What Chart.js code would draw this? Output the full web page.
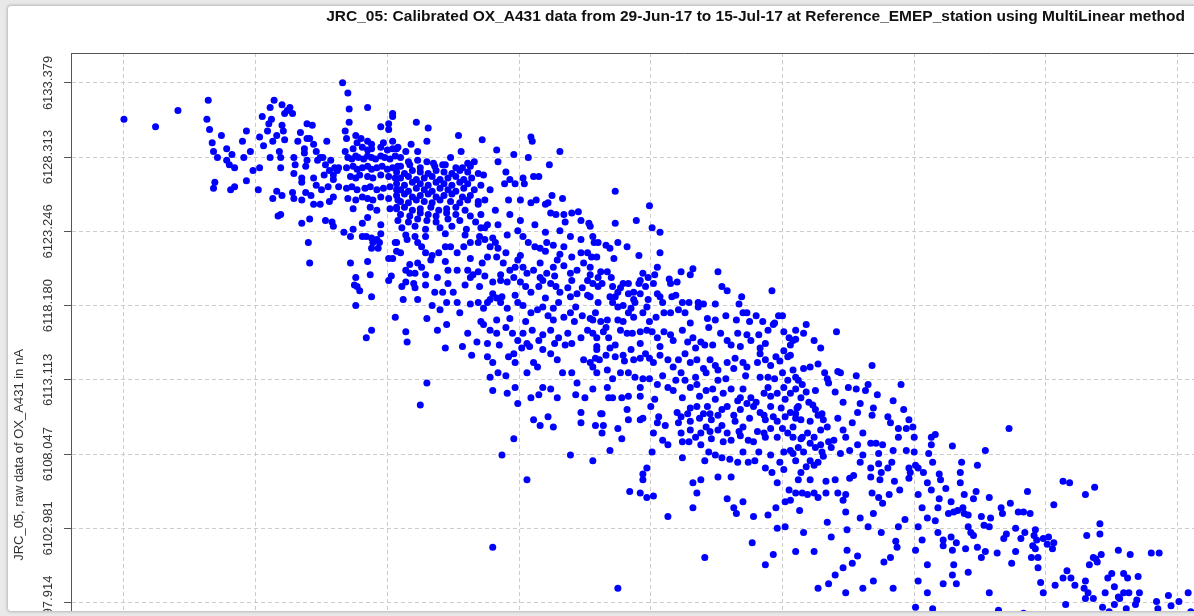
<!DOCTYPE html>
<html>
<head>
<meta charset="utf-8">
<script src="https://cdn.jsdelivr.net/npm/chart.js@4/dist/chart.umd.min.js"></script>
<style>
  html, body { margin: 0; padding: 0; width: 1194px; height: 616px; overflow: hidden; background: #e9e9e9; }
  #panel { position: absolute; left: 8px; top: 6px; width: 1300px; height: 605px; overflow: hidden;
           background: #fff; border-radius: 3px; box-shadow: 0 0 3px 1px rgba(0,0,0,0.22); }
  #chart { position: absolute; left: 0; top: 0; }
</style>
</head>
<body>
<div id="panel"><canvas id="chart" width="1300" height="860"></canvas></div>
<script>
// Chart texts
const title = 'JRC_05: Calibrated OX_A431 data from 29-Jun-17 to 15-Jul-17 at Reference_EMEP_station using MultiLinear method';
const yTitle = 'JRC_05, raw data of OX_A431 in nA';

// y tick labels (nA) and x grid positions (x axis is unlabelled in the source, grid units)
const yTicks = [6133.379, 6128.313, 6123.246, 6118.180, 6113.113, 6108.047, 6102.981, 6097.914];
const xGrid = [0, 1, 2, 3, 4, 5, 6, 7, 8];

// visible window of the axes
const xMin = -0.402, xMax = 8.914;
const yMin = 6080.561, yMax = 6135.426;

// scatter points [x, raw nA]
const points = [
  // far left / upper left shoulder
  [0.00,6130.9],[0.24,6130.4],[0.41,6131.5],[0.64,6132.2],[0.63,6130.9],[0.65,6130.2],[0.67,6129.3],[0.68,6128.7],
  [0.71,6128.3],[0.69,6126.6],[0.68,6126.2],[0.74,6129.8],[0.78,6128.9],[0.78,6128.1],[0.82,6128.5],[0.80,6127.8],
  [0.84,6127.6],[0.84,6126.3],[0.81,6126.1],[0.93,6126.7],[0.91,6128.3],[0.90,6129.4],[0.93,6130.1],[0.96,6128.7],
  [0.98,6127.4],[1.03,6127.6],[1.02,6126.1],[1.03,6129.7],[1.05,6131.1],[1.06,6129.1],[1.09,6130.1],[1.11,6128.3],
  [1.11,6131.7],[1.14,6132.2],[1.10,6130.6],[1.12,6130.9],[1.13,6129.4],[1.16,6129.8],[1.18,6128.7],[1.19,6128.3],
  [1.19,6127.6],[1.20,6131.9],[1.20,6130.5],[1.21,6130.1],[1.22,6129.5],[1.22,6131.3],[1.26,6131.7],[1.28,6131.3],
  [1.29,6128.3],[1.30,6127.8],[1.29,6127.2],[1.32,6129.4],[1.34,6130.0],[1.13,6125.5],[1.20,6125.7],[1.16,6126.0],
  [1.28,6125.9],[1.29,6125.5],[1.17,6124.3],[1.19,6124.4],[1.24,6131.5],
  // second column
  [1.35,6125.4],[1.35,6123.8],[1.41,6124.1],[1.40,6122.5],[1.41,6121.1],[1.38,6125.9],[1.39,6130.6],[1.43,6130.5],
  [1.39,6129.6],[1.41,6129.6],[1.44,6129.2],[1.37,6128.9],[1.37,6128.6],[1.39,6128.1],[1.38,6127.7],[1.35,6126.9],
  [1.35,6126.6],[1.44,6126.9],[1.46,6126.4],[1.42,6125.7],[1.44,6125.1],[1.49,6125.1],[1.46,6128.7],[1.49,6128.3],
  [1.47,6128.1],[1.54,6129.4],[1.50,6126.1],[1.55,6126.3],[1.56,6125.3],[1.59,6125.6],[1.53,6124.0],[1.58,6123.9],
  [1.59,6123.6],[1.57,6128.1],[1.53,6127.8],[1.59,6127.1],[1.62,6127.4],[1.63,6127.6],[1.63,6126.3],[1.51,6128.3],
  [1.56,6127.4],[1.52,6127.1],[1.60,6127.6],[1.59,6126.8],
  [1.66,6133.4],[1.70,6132.7],[1.71,6131.6],[1.71,6130.7],[1.68,6130.1],[1.69,6129.6],[1.68,6128.7],[1.85,6131.7],
  [1.76,6129.8],[1.80,6129.6],
  [1.67,6123.2],[1.72,6122.9],[1.74,6123.4],[1.72,6121.1],[1.76,6120.1],[1.75,6119.6],[1.77,6119.5],[1.79,6119.2],
  [1.76,6118.2],[1.81,6123.8],[1.85,6124.2],[1.81,6122.9],[1.84,6122.9],[1.88,6122.8],[1.89,6122.5],[1.92,6122.7],
  [1.88,6122.1],[1.93,6122.1],[1.85,6121.2],[1.87,6120.3],[1.88,6118.8],[1.84,6116.0],[1.88,6116.5],[1.95,6123.1],
  [1.95,6123.7],[1.94,6122.5],[2.01,6121.4],[2.03,6120.2],[2.01,6119.9],[2.06,6117.4],[2.07,6121.9],[2.07,6122.5],
  [1.95,6130.4],[2.04,6131.3],[2.04,6131.1],[2.01,6130.6],[2.01,6130.2],
  // dense cluster around x 1.7 - 2.1
  [1.77,6129.3],[1.85,6129.4],[1.88,6129.2],[1.97,6129.3],[2.04,6129.4],
  [1.74,6128.9],[1.81,6129.0],[1.85,6128.8],[1.88,6128.9],[1.95,6129.0],[2.00,6128.8],[2.04,6128.9],[2.08,6129.0],
  [1.70,6128.3],[1.73,6128.2],[1.76,6128.4],[1.78,6128.3],[1.82,6128.2],[1.85,6128.4],[1.88,6128.3],[1.91,6128.2],
  [1.95,6128.4],[1.98,6128.3],[2.02,6128.2],[2.06,6128.4],
  [1.69,6127.6],[1.74,6127.7],[1.77,6127.5],[1.81,6127.6],[1.85,6127.7],[1.88,6127.5],[1.92,6127.6],[1.96,6127.7],
  [2.00,6127.5],[2.04,6127.6],[2.08,6127.7],
  [1.72,6127.0],[1.76,6126.9],[1.79,6127.1],[1.85,6127.0],[1.89,6126.9],[1.95,6127.1],[2.01,6127.0],[2.06,6126.9],
  [1.69,6126.2],[1.73,6126.3],[1.77,6126.1],[1.83,6126.2],[1.87,6126.3],[1.92,6126.1],[1.97,6126.2],[2.02,6126.3],
  [2.07,6126.1],
  [1.70,6125.5],[1.76,6125.4],[1.81,6125.6],[1.85,6125.5],[1.89,6125.4],[1.95,6125.6],[2.01,6125.5],[2.08,6125.4],
  [1.74,6124.8],[1.87,6124.9],[1.92,6124.7],[2.02,6124.8],[2.07,6124.9],
  // x 2.1 - 3.3, upper edge
  [2.22,6130.7],[2.31,6130.3],[2.54,6129.8],[2.72,6129.5],[2.83,6128.8],[2.96,6128.5],[3.09,6129.7],[3.10,6129.4],
  [3.31,6128.7],[3.23,6127.8],[3.07,6128.3],[2.30,6129.4],[2.18,6129.2],[2.14,6128.7],[2.07,6128.9],[2.56,6128.7],
  [2.23,6128.7],[2.10,6128.3],[2.16,6128.0],[2.23,6128.1],[2.30,6128.0],[2.35,6127.9],[2.48,6128.3],[2.42,6127.8],
  [2.57,6127.6],[2.61,6127.9],[2.66,6128.0],
  // core blob
  [2.10,6127.7],[2.17,6127.8],[2.25,6127.6],[2.36,6127.7],[2.44,6127.8],[2.52,6127.6],[2.63,6127.7],
  [2.07,6127.3],[2.13,6127.2],[2.19,6127.4],[2.25,6127.3],[2.31,6127.2],[2.37,6127.4],[2.43,6127.3],[2.49,6127.2],
  [2.55,6127.4],[2.61,6127.3],[2.69,6127.2],
  [2.10,6126.9],[2.16,6127.0],[2.22,6126.8],[2.28,6126.9],[2.34,6127.0],[2.40,6126.8],[2.46,6126.9],[2.52,6127.0],
  [2.58,6126.8],[2.64,6126.9],
  [2.07,6126.5],[2.13,6126.4],[2.19,6126.6],[2.25,6126.5],[2.31,6126.4],[2.37,6126.6],[2.43,6126.5],[2.49,6126.4],
  [2.55,6126.6],[2.61,6126.5],[2.71,6126.4],
  [2.10,6126.1],[2.16,6126.0],[2.22,6126.2],[2.28,6126.1],[2.34,6126.0],[2.40,6126.2],[2.46,6126.1],[2.52,6126.0],
  [2.58,6126.2],[2.66,6126.1],
  [2.07,6125.7],[2.13,6125.8],[2.19,6125.6],[2.25,6125.7],[2.31,6125.8],[2.37,6125.6],[2.43,6125.7],[2.49,6125.8],
  [2.57,6125.6],[2.63,6125.7],
  [2.10,6125.3],[2.16,6125.2],[2.22,6125.4],[2.28,6125.3],[2.34,6125.2],[2.40,6125.4],[2.48,6125.3],[2.55,6125.2],
  [2.61,6125.4],[2.69,6125.3],
  [2.07,6124.8],[2.13,6124.9],[2.19,6124.7],[2.25,6124.8],[2.33,6124.9],[2.39,6124.7],[2.45,6124.8],[2.52,6124.9],
  [2.59,6124.7],
  [2.10,6124.4],[2.17,6124.3],[2.25,6124.5],[2.31,6124.4],[2.37,6124.3],[2.45,6124.5],[2.52,6124.4],[2.63,6124.3],
  [2.08,6124.0],[2.16,6123.9],[2.23,6124.1],[2.30,6124.0],[2.37,6123.9],[2.46,6124.1],[2.55,6124.0],[2.67,6123.9],
  [2.11,6123.5],[2.21,6123.6],[2.29,6123.4],[2.40,6123.5],[2.49,6123.6],[2.60,6123.4],[2.71,6123.5],
  // below the core
  [2.06,6122.5],[2.10,6121.8],[2.04,6121.4],[2.15,6122.7],[2.21,6122.9],[2.23,6122.5],[2.26,6122.2],[2.29,6121.8],
  [2.34,6121.6],[2.39,6121.8],[2.44,6122.2],[2.48,6122.2],[2.53,6121.8],[2.58,6122.2],[2.63,6122.5],[2.69,6122.5],
  [2.74,6122.7],[2.78,6122.2],[2.82,6122.5],[2.84,6122.1],[2.17,6121.0],[2.23,6121.1],[2.26,6120.8],[2.14,6120.6],
  [2.17,6120.4],[2.21,6120.4],[2.29,6120.3],[2.38,6120.1],[2.46,6120.6],[2.53,6120.6],[2.61,6120.6],[2.65,6120.3],
  [2.11,6119.5],[2.14,6119.8],[2.20,6119.7],[2.21,6119.4],[2.36,6119.1],[2.42,6119.1],[2.50,6119.1],[2.59,6119.6],
  [2.63,6120.1],[2.69,6120.5],[2.72,6121.1],[2.76,6121.5],[2.12,6118.6],[2.23,6118.6],[2.34,6118.2],[2.40,6117.9],
  [2.45,6118.4],[2.53,6118.4],[2.55,6117.7],[2.63,6118.3],[2.69,6118.4],[2.73,6118.0],[2.76,6118.4],[2.80,6119.0],
  [2.78,6118.6],[2.83,6118.7],[2.14,6116.4],[2.15,6115.7],[2.30,6117.3],[2.38,6116.5],[2.44,6115.3],[2.45,6116.9],
  [2.57,6115.4],[2.61,6116.3],[2.64,6114.8],[2.68,6115.7],[2.73,6116.9],[2.76,6115.6],[2.30,6112.9],[2.25,6111.4],
  [2.14,6123.0],[2.29,6122.9],[2.44,6123.1],[2.59,6123.0],[2.70,6122.9],[2.33,6121.3],[2.44,6121.2],[2.63,6121.4],
  [2.29,6119.6],[2.46,6119.7],[2.70,6119.5],
  // x 2.7 - 3.6
  [2.84,6128.0],[2.90,6127.3],[2.93,6126.8],[2.97,6126.5],[3.03,6126.9],[3.11,6127.0],[3.15,6127.0],[2.92,6125.4],
  [3.01,6125.4],[3.09,6125.2],[3.13,6125.4],[3.20,6125.1],[3.22,6125.2],[3.25,6125.7],[3.33,6125.5],
  [2.89,6126.5],[3.04,6126.5],[2.78,6126.1],[2.74,6125.4],[2.82,6124.7],[2.71,6124.4],[2.76,6123.7],[2.93,6124.4],
  [3.01,6124.0],[3.12,6123.7],[3.20,6123.2],[3.31,6123.3],[3.39,6122.9],[3.47,6122.7],[2.80,6122.8],[2.73,6127.1],
  [2.69,6125.1],[2.74,6123.5],
  [2.84,6123.7],[2.91,6123.0],[2.99,6123.3],[3.03,6122.9],[3.07,6122.5],[3.12,6122.2],[3.16,6122.1],[3.21,6122.5],
  [3.26,6122.3],[3.34,6122.2],[3.40,6121.5],[3.47,6121.8],[3.28,6124.4],[3.24,6124.5],[3.34,6124.4],[3.35,6123.9],
  [3.40,6124.5],[3.45,6124.6],[3.47,6124.0],[3.53,6123.8],[3.54,6123.6],[3.56,6122.9],[3.60,6122.5],
  [2.90,6121.8],[3.01,6121.6],[3.20,6121.9],[3.31,6121.7],[3.52,6121.8],
  [2.83,6121.5],[2.88,6121.1],[2.93,6120.6],[2.97,6120.8],[2.99,6121.3],[3.03,6120.8],[3.06,6120.4],[3.11,6120.6],
  [3.16,6121.1],[3.21,6120.4],[3.26,6120.8],[3.29,6121.3],[3.34,6120.9],[3.39,6120.4],[3.44,6120.6],[3.49,6121.1],
  [3.54,6120.8],[3.59,6121.5],
  [2.74,6120.2],[2.86,6120.3],[3.16,6120.1],[3.27,6120.2],[3.54,6120.3],
  [2.80,6119.8],[2.86,6119.9],[2.91,6119.8],[2.96,6120.1],[3.01,6119.8],[3.05,6119.5],[3.09,6119.1],[3.15,6119.5],
  [3.18,6119.9],[3.24,6119.7],[3.28,6119.5],[3.31,6119.1],[3.37,6119.4],[3.40,6119.9],[3.44,6119.0],[3.48,6119.4],
  [3.52,6119.9],[3.56,6119.7],[3.60,6119.5],
  [2.87,6118.8],[2.97,6118.9],[3.20,6118.7],[3.39,6118.8],[3.52,6118.9],
  [2.86,6118.4],[2.91,6118.0],[2.99,6118.4],[3.03,6118.2],[3.09,6117.7],[3.14,6117.9],[3.18,6118.1],[3.22,6117.5],
  [3.26,6118.0],[3.30,6118.4],[3.34,6117.4],[3.39,6117.7],[3.43,6118.1],[3.48,6117.5],[3.54,6117.3],[3.58,6117.7],
  [3.60,6118.4],
  [2.83,6117.2],[2.93,6117.3],[3.05,6117.1],[3.26,6117.2],[3.42,6117.1],
  [2.71,6117.1],[2.78,6116.5],[2.83,6116.3],[2.90,6116.7],[2.95,6116.3],[2.99,6115.8],[3.03,6116.3],[3.10,6116.5],
  [3.15,6115.8],[3.18,6116.2],[3.24,6116.5],[3.30,6116.0],[3.37,6116.3],[3.40,6115.6],[3.47,6116.0],[3.52,6116.5],
  [3.56,6116.3],
  [2.85,6115.5],[3.08,6115.4],[3.27,6115.6],[3.35,6115.5],[3.59,6115.4],
  [2.76,6114.7],[2.80,6114.3],[2.84,6113.6],[2.90,6113.4],[2.92,6114.7],[2.96,6114.9],[2.97,6114.3],[3.02,6115.3],
  [3.06,6115.6],[3.11,6114.3],[3.14,6114.0],[3.18,6115.2],[3.24,6114.9],[3.29,6114.5],[3.33,6113.6],[3.40,6113.6],
  [3.44,6112.9],[3.49,6114.5],[3.54,6114.3],[3.58,6114.6],
  [2.78,6113.3],[2.80,6112.4],[2.91,6112.2],[2.97,6112.6],[2.99,6111.5],[3.06,6113.6],[3.09,6111.9],[3.15,6112.1],
  [3.18,6112.6],[3.24,6112.5],[3.29,6111.9],[3.43,6112.1],[3.47,6110.9],[3.50,6111.9],[3.56,6112.5],
  [3.11,6110.4],[3.16,6110.0],[3.22,6110.6],[3.26,6109.9],[3.47,6110.2],[3.58,6110.0],[3.62,6110.8],
  [2.96,6109.1],[2.87,6108.0],[3.06,6106.3],[3.39,6108.0],[3.56,6107.6],[2.80,6101.7],[3.75,6098.9],
  // x 3.5 - 5.1
  [3.73,6126.0],[3.99,6125.0],[4.01,6123.5],[4.07,6123.2],[3.73,6123.8],[3.89,6124.0],[3.57,6122.5],[3.66,6122.3],
  [3.69,6122.1],[3.75,6122.5],[3.82,6122.2],[3.91,6121.6],[4.07,6121.8],[3.72,6121.4],[4.05,6120.8],[4.03,6120.3],
  [4.23,6120.5],[4.32,6120.7],[4.30,6120.3],[4.14,6120.0],[4.15,6119.7],[4.20,6119.8],[4.51,6120.5],[4.54,6119.5],
  [4.58,6119.2],[4.69,6118.8],[4.67,6118.3],[4.92,6119.2],
  [3.60,6120.1],[3.63,6119.7],[3.70,6120.1],[3.71,6119.5],[3.69,6118.8],[3.83,6119.7],[3.91,6119.7],[3.92,6119.0],
  [3.94,6120.4],[4.05,6119.0],[4.07,6118.8],[4.09,6118.4],[4.19,6118.9],[4.24,6118.4],[4.29,6118.4],[4.36,6118.4],
  [4.40,6118.3],[4.49,6118.3],[3.54,6118.8],[3.71,6118.4],[3.75,6118.1],[3.79,6118.2],[3.85,6118.0],[3.88,6118.4],
  [3.94,6117.7],[3.97,6118.1],[4.04,6117.4],[4.10,6117.7],[4.15,6117.7],[4.21,6117.9],[4.26,6117.7],[4.36,6118.1],
  [4.43,6117.3],[4.44,6116.7],[4.57,6117.5],[4.65,6117.2],[4.70,6117.7],[4.73,6117.7],[4.80,6117.5],[4.85,6117.1],
  [4.89,6116.5],[4.97,6117.5],[5.00,6117.5],[3.56,6117.2],[3.62,6117.1],[3.67,6117.2],[3.66,6116.7],[3.75,6117.2],
  [3.79,6117.1],[3.83,6117.7],[3.87,6117.4],[3.59,6116.0],[3.64,6116.4],[3.68,6116.0],
  [3.55,6121.5],[3.62,6120.5],[3.67,6120.5],[3.73,6118.8],[3.75,6119.1],[3.79,6119.7],[3.83,6119.0],[3.87,6118.6],
  [3.92,6119.9],[3.96,6119.5],[3.98,6118.6],[3.77,6119.4],[3.87,6119.1],[3.98,6120.1],[4.02,6119.7],[4.16,6118.8],
  [3.99,6117.1],[4.30,6117.0],[4.49,6117.2],[4.75,6117.1],[4.94,6117.0],
  [3.77,6116.5],[3.82,6116.3],[3.86,6116.3],[3.92,6116.4],[3.97,6116.5],[4.01,6116.4],[4.05,6116.0],[4.10,6116.4],
  [4.15,6116.2],[4.17,6115.8],[4.24,6116.5],[4.28,6115.7],[4.32,6116.0],[4.34,6115.3],[4.38,6115.7],[4.47,6115.5],
  [4.53,6116.3],[4.58,6115.8],[4.61,6115.5],[4.66,6116.3],[4.73,6116.2],[4.76,6115.8],[4.82,6116.2],[4.83,6115.3],
  [4.93,6116.9],[5.01,6116.4],[5.01,6115.1],[5.05,6116.0],[5.08,6115.8],[5.10,6116.5],
  [3.73,6115.5],[3.92,6115.6],[4.07,6115.4],[4.41,6115.5],[4.68,6115.4],[4.87,6115.6],[5.06,6115.5],
  [3.59,6115.2],[3.66,6114.8],[3.69,6115.3],[3.73,6114.7],[3.79,6114.8],[3.85,6115.2],[3.87,6114.5],[3.92,6114.6],
  [3.96,6114.9],[4.02,6114.3],[4.07,6114.8],[4.13,6114.5],[4.17,6114.0],[4.21,6114.5],[4.26,6114.9],[4.30,6114.3],
  [4.35,6114.5],[4.40,6113.9],[4.42,6113.6],[4.49,6114.1],[4.51,6113.8],[4.58,6114.3],[4.63,6113.9],[4.70,6114.3],
  [4.73,6114.0],[4.81,6114.3],[4.83,6114.9],[4.91,6114.1],[4.95,6114.7],[5.00,6113.6],[5.04,6114.7],[5.08,6113.8],
  [5.12,6113.1],
  [3.61,6114.5],[3.80,6114.4],[3.99,6114.6],[4.45,6114.5],[4.64,6114.6],[4.87,6114.5],[4.98,6114.4],
  [3.56,6114.0],[3.59,6113.6],[3.67,6113.8],[3.71,6113.2],[3.77,6113.6],[3.83,6113.6],[3.92,6112.6],[3.94,6113.2],
  [4.05,6112.8],[4.13,6112.6],[4.19,6113.1],[4.23,6113.6],[4.26,6113.1],[4.30,6112.6],[4.35,6112.8],[4.42,6112.4],
  [4.47,6112.5],[4.51,6113.1],[4.55,6112.2],[4.61,6112.5],[4.66,6111.7],[4.70,6112.5],[4.76,6111.9],[4.80,6111.6],
  [4.86,6112.2],[4.89,6113.3],[4.89,6112.6],[4.96,6112.2],[5.01,6112.6],[5.04,6113.1],[5.06,6112.2],[5.10,6112.5],
  [5.14,6111.9],
  [3.88,6113.3],[3.99,6113.2],[4.09,6113.4],[4.34,6113.3],[4.57,6113.2],[4.72,6113.4],[4.83,6113.3],[4.94,6113.2],
  [5.10,6113.3],
  [3.67,6112.6],[3.68,6111.9],[3.78,6111.9],[3.83,6112.0],[4.00,6111.3],[4.17,6112.4],[4.20,6110.9],[4.23,6110.6],
  [4.28,6110.8],[4.30,6111.2],[4.35,6111.3],[4.40,6110.8],[4.43,6111.3],[4.45,6110.8],[4.51,6110.7],[4.54,6111.1],
  [4.58,6111.3],[4.63,6110.7],[4.68,6111.1],[4.73,6111.5],[4.78,6111.3],[4.83,6110.9],[4.86,6110.7],[4.91,6111.3],
  [4.93,6110.6],[4.99,6111.2],[5.02,6110.6],[5.06,6110.9],[5.10,6110.8],[5.12,6111.3],
  [3.71,6111.9],[3.92,6112.0],[4.03,6111.8],[4.24,6111.9],[4.37,6112.0],[4.49,6111.8],[4.68,6111.9],[4.91,6112.0],
  [5.02,6111.8],
  [3.63,6110.8],[3.64,6110.0],[3.63,6109.5],[3.75,6109.8],[3.78,6109.1],[3.69,6108.3],[3.82,6111.1],[3.83,6110.4],
  [3.94,6110.5],[4.06,6110.6],[4.05,6110.2],[4.11,6110.0],[4.09,6109.0],[4.13,6108.7],[4.02,6109.5],[4.01,6108.2],
  [4.21,6110.2],[4.23,6109.5],[4.24,6108.9],[4.29,6108.9],[4.24,6107.8],
  [3.92,6110.4],[4.30,6110.3],[4.37,6110.5],[4.46,6110.4],[4.64,6110.3],[4.75,6110.5],[4.87,6110.4],[4.96,6110.3],
  [5.10,6110.5],
  [4.30,6109.7],[4.38,6109.5],[4.42,6109.9],[4.45,6109.6],[4.51,6109.7],[4.54,6110.0],[4.58,6109.5],[4.55,6108.9],
  [4.61,6109.0],[4.67,6109.6],[4.70,6109.9],[4.74,6109.0],[4.78,6108.9],[4.81,6109.6],[4.86,6109.5],[4.91,6109.8],
  [4.96,6109.2],[5.00,6109.8],[5.04,6109.5],[5.08,6109.2],
  [4.34,6109.2],[4.46,6109.1],[4.68,6109.3],[4.87,6109.2],[5.14,6109.1],
  [4.38,6108.7],[4.44,6108.2],[4.49,6108.0],[4.54,6107.8],[4.61,6106.5],[4.66,6107.5],[4.70,6108.2],[4.74,6107.5],
  [4.82,6108.2],[4.87,6107.1],[4.91,6108.0],[4.92,6106.8],[4.96,6106.1],[5.01,6107.0],[5.05,6105.6],[5.06,6104.9],
  [5.12,6106.3],[5.01,6108.2],[5.06,6108.3],
  [4.41,6107.6],[4.60,6107.7],[4.79,6107.6],[4.98,6107.5],[5.10,6107.6],
  [4.32,6106.1],[4.38,6106.3],[4.35,6105.4],[4.32,6104.4],[4.51,6106.5],[4.58,6105.0],[4.63,6104.4],[4.65,6104.0],
  [4.70,6104.8],[4.78,6103.8],[4.89,6103.9],[4.95,6104.4],[5.02,6104.8],[4.96,6103.0],[5.02,6103.1],
  [3.84,6105.5],[3.92,6105.4],[3.97,6105.1],[4.02,6105.2],[3.94,6106.7],[3.94,6106.3],[3.97,6107.1],[4.13,6103.8],
  [4.41,6101.0],[4.77,6102.0],[4.87,6100.5],[4.93,6101.2],[5.10,6101.4],
  // x 5.1 - 6.7
  [5.18,6116.9],[5.41,6116.4],[5.10,6115.9],[5.16,6116.3],[5.24,6115.8],[5.29,6115.3],[5.06,6114.8],[5.27,6114.2],
  [5.21,6114.0],[5.16,6113.9],[5.32,6113.6],[5.34,6113.2],[5.35,6112.9],[5.42,6113.7],[5.44,6113.6],[5.56,6113.4],
  [5.68,6114.1],[5.50,6112.6],[5.65,6112.8],[5.63,6112.4],[5.72,6112.1],[5.90,6112.8],[5.84,6111.7],[5.46,6111.6],
  [5.59,6111.5],[5.57,6110.9],[5.69,6111.2],[5.68,6110.7],[5.80,6110.6],[5.82,6110.2],[5.92,6111.1],[5.96,6110.4],
  [5.99,6109.9],[5.94,6109.8],[5.88,6109.8],[5.88,6109.2],[6.00,6109.2],
  [5.25,6112.4],[5.40,6112.3],[5.56,6112.5],[5.14,6110.4],[5.21,6110.3],[5.42,6110.5],[5.30,6108.2],[5.44,6108.1],
  [5.51,6108.3],[5.21,6106.3],[5.33,6106.2],[5.51,6106.4],[5.74,6106.3],[5.85,6106.2],
  [5.15,6112.8],[5.18,6112.3],[5.20,6111.6],[5.23,6111.4],[5.25,6111.1],[5.27,6110.7],[5.30,6110.8],[5.31,6110.4],
  [5.34,6109.9],[5.29,6109.7],[5.24,6109.2],[5.19,6109.5],[5.15,6109.2],[5.08,6109.9],[5.11,6111.2],
  [5.21,6108.8],[5.25,6108.5],[5.29,6108.7],[5.35,6108.9],[5.39,6109.0],[5.37,6108.5],[5.31,6107.9],[5.27,6107.5],
  [5.21,6107.6],[5.16,6108.2],[5.12,6108.5],[5.08,6108.1],[5.18,6107.2],[5.14,6106.8],[5.24,6107.3],
  [5.46,6109.7],[5.48,6109.2],[5.53,6110.2],[5.57,6108.7],[5.61,6109.5],[5.61,6108.0],[5.59,6107.5],[5.67,6108.8],
  [5.71,6108.8],[5.73,6108.1],[5.76,6108.7],[5.73,6107.4],[5.84,6108.3],[5.94,6108.3],[6.00,6108.2],[5.83,6107.5],
  [5.80,6107.1],[5.75,6106.8],[5.67,6107.1],[5.67,6106.5],[5.54,6106.6],[5.40,6106.3],[5.96,6107.1],[5.97,6106.8],
  [6.01,6107.3],[6.03,6107.1],[5.96,6106.4],[6.07,6106.8],[6.11,6108.1],[6.14,6107.5],[6.13,6108.7],[6.13,6109.2],
  [6.16,6109.4],[6.29,6108.6],[6.54,6108.3],[6.36,6107.5],[6.48,6107.3],[6.35,6106.8],[6.35,6106.1],[6.19,6106.7],
  [6.20,6106.3],[6.10,6106.1],[6.13,6105.6],[6.03,6105.3],[6.06,6104.4],[6.10,6103.7],[6.18,6104.4],[6.19,6105.0],
  [6.28,6104.8],[6.26,6104.0],[6.30,6104.1],[6.33,6104.2],[6.37,6104.4],[6.38,6104.0],[6.38,6105.3],[6.45,6105.0],
  [6.57,6105.1],[6.41,6103.9],[6.51,6103.8],[6.53,6103.2],[6.57,6103.1],[6.41,6103.1],[6.43,6102.7],[6.45,6102.5],
  [6.18,6102.7],[6.22,6102.2],[6.22,6101.8],[6.28,6102.4],[6.29,6101.5],[6.32,6102.0],[6.06,6102.2],[6.03,6103.1],
  [6.10,6100.5],[6.03,6099.4],[6.10,6098.6],[6.14,6097.5],[6.01,6097.6],[6.22,6099.2],[6.29,6099.8],[6.32,6099.2],
  [6.30,6100.5],[6.41,6100.0],[6.48,6101.7],[6.51,6101.0],[6.57,6098.6],[6.63,6101.3],[6.64,6097.4],
  [5.89,6105.6],[6.24,6105.7],[6.47,6105.5],[5.93,6103.6],[6.16,6103.5],[6.58,6103.7],[6.01,6101.5],[6.39,6101.6],
  [6.54,6101.4],
  [5.10,6105.4],[5.15,6105.4],[5.19,6105.3],[5.24,6105.4],[5.27,6105.1],[5.33,6105.4],[5.42,6105.4],[5.46,6104.9],
  [5.48,6105.3],[5.48,6104.1],[5.13,6104.2],[5.34,6103.4],[5.16,6102.7],[5.37,6102.4],[5.49,6102.9],[5.59,6103.7],
  [5.69,6104.0],[5.65,6103.1],[5.75,6102.7],[5.68,6105.4],[5.73,6105.1],[5.76,6104.7],[5.81,6105.3],[5.88,6103.1],
  [5.86,6102.1],[5.87,6101.7],[5.24,6101.4],[5.49,6101.5],[5.57,6101.1],[5.53,6100.6],[5.46,6100.3],[5.40,6099.8],
  [5.35,6099.2],[5.27,6098.9],[5.48,6098.6],[5.61,6098.9],[5.69,6099.4],[5.77,6100.7],[5.82,6101.0],[5.84,6098.9],
  // x 6.7 - 8.1
  [6.72,6109.8],[7.13,6106.2],[7.18,6106.1],[7.37,6105.8],[7.30,6105.3],[6.86,6105.5],[6.73,6104.7],[6.66,6104.4],
  [6.67,6104.0],[6.79,6104.1],[6.83,6104.1],[6.88,6104.0],[7.06,6104.6],[6.77,6103.0],[6.70,6102.6],[6.68,6102.3],
  [6.81,6102.3],[6.84,6102.7],[6.92,6102.9],[6.91,6102.5],[6.93,6102.2],[6.98,6102.3],[7.02,6102.4],[7.01,6101.9],
  [7.06,6102.0],[7.05,6101.6],[6.77,6101.4],[6.90,6101.8],[6.92,6101.6],[6.89,6101.0],[6.74,6100.6],[6.94,6100.3],
  [6.94,6101.0],[6.96,6099.3],[6.98,6098.6],[7.07,6099.1],[7.13,6099.6],[7.16,6100.1],[7.19,6099.6],[7.22,6099.1],
  [7.29,6098.9],[7.30,6099.4],[7.41,6103.3],[7.41,6102.6],[7.31,6102.5],[7.36,6101.0],[7.38,6100.9],[7.42,6101.2],
  [7.39,6100.7],[7.33,6100.5],[7.55,6101.5],[7.64,6101.2],[7.80,6101.3],[7.86,6101.3],[7.30,6098.2],[7.36,6098.2],
  [7.32,6098.6],[7.47,6099.6],[7.50,6099.9],[7.59,6099.9],[7.62,6099.6],[7.70,6099.7],[7.45,6098.6],[7.52,6099.0],
  [7.55,6098.3],[7.59,6098.6],[7.63,6098.6],[7.71,6098.6],[7.69,6098.1],[7.68,6097.8],[7.56,6098.2],[7.43,6097.6],
  [7.48,6097.3],[7.52,6097.8],[7.61,6097.5],[7.84,6098.0],[7.85,6097.5],[7.93,6098.4],[7.95,6097.7],[8.01,6098.0],
  [8.08,6098.6],[8.10,6097.3],[7.15,6097.8],[6.83,6097.2]
];

// extra canvas drawing: frame top, rotated tick labels, titles
const decor = {
  id: 'decor',
  afterDraw(chart) {
    const { ctx, chartArea: a, scales: { y } } = chart;
    ctx.save();
    ctx.strokeStyle = '#555555';
    ctx.lineWidth = 1;
    ctx.beginPath();
    ctx.moveTo(a.left, a.top + 0.5);
    ctx.lineTo(a.right, a.top + 0.5);
    ctx.stroke();

    ctx.fillStyle = '#333333';
    ctx.font = '13px "Liberation Sans", Arial, sans-serif';
    ctx.textAlign = 'center';
    ctx.textBaseline = 'middle';
    yTicks.forEach(v => {
      ctx.save();
      ctx.translate(a.left - 23, y.getPixelForValue(v));
      ctx.rotate(-Math.PI / 2);
      ctx.fillText(v.toFixed(3), 0, 0);
      ctx.restore();
    });

    ctx.save();
    ctx.translate(a.left - 52, (a.top + a.bottom) / 2);
    ctx.rotate(-Math.PI / 2);
    ctx.fillText(yTitle, 0, 0);
    ctx.restore();

    ctx.fillStyle = '#111111';
    ctx.font = 'bold 15.5px "Liberation Sans", Arial, sans-serif';
    ctx.textAlign = 'right';
    ctx.fillText(title, 1177, 11);
    ctx.restore();
  }
};

new Chart(document.getElementById('chart'), {
  type: 'scatter',
  data: {
    datasets: [{
      data: points.map(p => ({ x: p[0], y: p[1] })),
      pointRadius: 3.5,
      pointHoverRadius: 3.5,
      pointBackgroundColor: '#0000ff',
      pointBorderWidth: 0
    }]
  },
  options: {
    responsive: false,
    animation: false,
    devicePixelRatio: 1,
    events: [],
    layout: { padding: { left: 56, top: 47, right: 10, bottom: 9 } },
    plugins: { legend: { display: false }, tooltip: { enabled: false } },
    scales: {
      x: {
        type: 'linear',
        min: xMin,
        max: xMax,
        afterBuildTicks: s => { s.ticks = xGrid.map(v => ({ value: v })); },
        afterFit: s => { s.height = 0; },
        ticks: { display: false },
        grid: { color: '#cccccc', lineWidth: 1, drawTicks: false },
        border: { display: false, dash: [4, 3] }
      },
      y: {
        type: 'linear',
        min: yMin,
        max: yMax,
        afterBuildTicks: s => { s.ticks = yTicks.map(v => ({ value: v })); },
        afterFit: s => { s.width = 7; },
        ticks: { display: false },
        grid: { color: '#cccccc', lineWidth: 1, drawTicks: true, tickLength: 7, tickColor: '#555555' },
        border: { display: true, color: '#555555', width: 1, dash: [4, 3] }
      }
    }
  },
  plugins: [decor]
});
</script>
</body>
</html>
